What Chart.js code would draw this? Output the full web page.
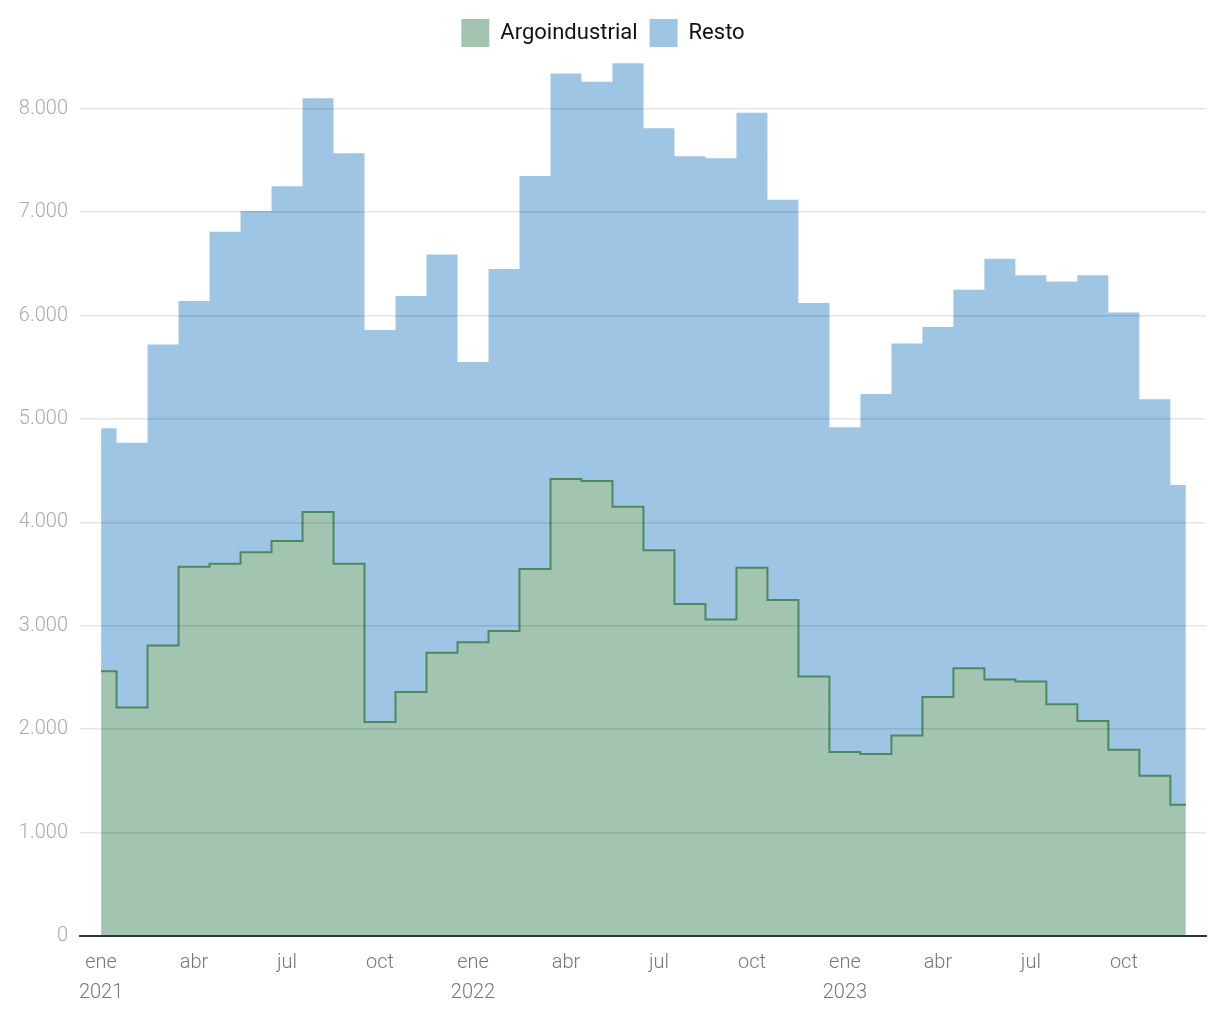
<!DOCTYPE html>
<html>
<head>
<meta charset="utf-8">
<script src="https://cdn.jsdelivr.net/npm/chart.js@4"></script>
<style>
  html, body { margin: 0; padding: 0; background: #fff; }
  #wrap { width: 1220px; height: 1020px; }
</style>
</head>
<body>
<div id="wrap"><canvas id="myChart"></canvas></div>
<script>
// monthly values ene 2021 .. dic 2023
var months = ['ene','feb','mar','abr','may','jun','jul','ago','sep','oct','nov','dic'];
var years = ['2021','2022','2023'];

var argoindustrial = [
  2560, 2210, 2810, 3570, 3600, 3710, 3820, 4100, 3600, 2070, 2360, 2740,
  2840, 2950, 3550, 4420, 4400, 4150, 3730, 3210, 3060, 3560, 3250, 2510,
  1780, 1760, 1940, 2310, 2590, 2480, 2460, 2240, 2080, 1800, 1550, 1270
];
var resto = [
  2350, 2560, 2910, 2570, 3210, 3300, 3430, 4000, 3970, 3790, 3830, 3850,
  2710, 3500, 3800, 3920, 3860, 4290, 4080, 4330, 4460, 4400, 3870, 3610,
  3140, 3480, 3790, 3580, 3660, 4070, 3930, 4090, 4310, 4230, 3640, 3090
];
var yTicks = [0, 1000, 2000, 3000, 4000, 5000, 6000, 7000, 8000];

function pts(arr) {
  return arr.map(function (v, i) { return { x: i, y: v }; });
}
function fmt(v) {
  return String(v).replace(/\B(?=(\d{3})+(?!\d))/g, '.');
}

var ctx = document.getElementById('myChart').getContext('2d');
var myChart = new Chart(ctx, {
  type: 'line',
  data: {
    datasets: [{
      label: 'Argoindustrial',
      data: pts(argoindustrial),
      stepped: 'middle',
      fill: 'origin',
      backgroundColor: '#a3c4b0',
      borderColor: '#4a8a5c',
      borderWidth: 2,
      pointRadius: 0
    }, {
      label: 'Resto',
      data: pts(resto),
      stepped: 'middle',
      fill: '-1',
      backgroundColor: '#9fc5e5',
      borderColor: 'rgba(0,0,0,0)',
      borderWidth: 0,
      pointRadius: 0
    }]
  },
  options: {
    responsive: true,
    maintainAspectRatio: false,
    animation: false,
    layout: { padding: { left: 0, right: 14, top: 7, bottom: 0 } },
    plugins: {
      tooltip: { enabled: false },
      legend: {
        position: 'top',
        labels: {
          boxWidth: 28,
          boxHeight: 28,
          padding: 12,
          color: '#111',
          font: { family: 'Roboto', size: 22 },
          generateLabels: function (chart) {
            return chart.data.datasets.map(function (ds, i) {
              return {
                text: ds.label,
                fillStyle: ds.backgroundColor,
                strokeStyle: ds.backgroundColor,
                lineWidth: 0,
                datasetIndex: i,
                fontColor: '#111'
              };
            });
          }
        }
      }
    },
    scales: {
      x: {
        type: 'linear',
        min: -0.68,
        max: 35.65,
        afterBuildTicks: function (s) {
          s.ticks = [];
          for (var i = 0; i < 36; i += 3) s.ticks.push({ value: i });
        },
        afterFit: function (s) { s.height = 84; },
        grid: { display: false, drawTicks: false },
        border: { display: true, color: '#333', width: 2, z: 2 },
        ticks: {
          autoSkip: false,
          maxRotation: 0,
          padding: 12,
          color: '#777',
          font: { family: 'Roboto', size: 20, weight: '300', lineHeight: 1.5 },
          callback: function (v) {
            var m = months[v % 12];
            if (v % 12 === 0) return [m, years[Math.floor(v / 12)]];
            return m;
          }
        }
      },
      y: {
        stacked: true,
        min: 0,
        max: 8500,
        afterBuildTicks: function (s) {
          s.ticks = yTicks.map(function (v) { return { value: v }; });
        },
        afterFit: function (s) { s.width = 80; },
        grid: { color: 'rgba(0,0,0,0.1)', lineWidth: 1.5, drawTicks: false, z: 1 },
        border: { display: false },
        ticks: {
          padding: 12,
          color: '#aaa',
          font: { family: 'Roboto', size: 20, weight: '300' },
          callback: function (v) { return fmt(v); }
        }
      }
    }
  }
});
</script>
</body>
</html>
